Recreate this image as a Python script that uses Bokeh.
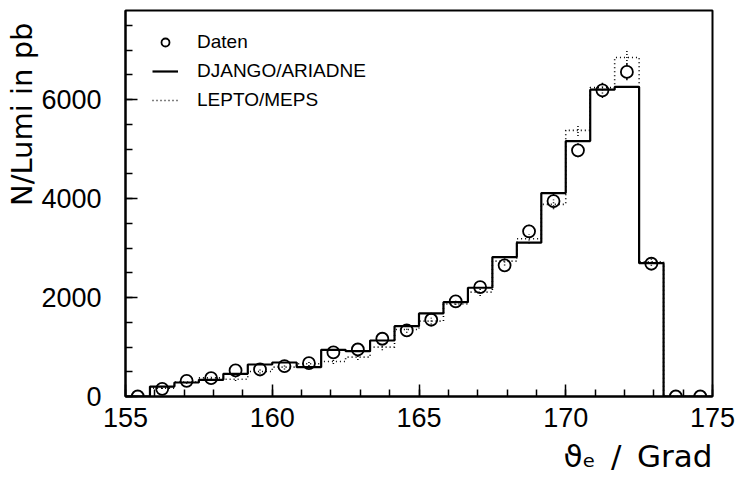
import numpy as np
from bokeh.plotting import figure
from bokeh.models import FixedTicker, Legend, LegendItem, Range1d, Title
from bokeh.embed import file_html
from bokeh.resources import INLINE

# ---- data ----
bin_lo = 155.0
bin_hi = 175.0
n_bins = 24

daten = [0, 155, 317, 370, 526, 546, 613, 674, 890, 950, 1167, 1335,
         1551, 1921, 2210, 2650, 3337, 3949, 4975, 6187, 6558, 2683, 0, 0]
daten_err = [0, 40, 50, 55, 60, 60, 65, 70, 80, 80, 90, 95,
             100, 110, 115, 125, 135, 145, 140, 155, 165, 110, 0, 0]
django = [0, 200, 283, 337, 459, 647, 687, 593, 944, 916, 1132, 1422,
          1678, 1907, 2198, 2817, 3108, 4111, 5162, 6201, 6256, 2695, 0, 0]
lepto = [0, 170, 290, 376, 350, 505, 593, 661, 708, 795, 997, 1355,
         1523, 1870, 2109, 2736, 3189, 3883, 5378, 6242, 6850, 2723, 0, 0]
lepto_err = [0, 20, 30, 35, 35, 40, 45, 45, 50, 55, 60, 65,
             70, 75, 80, 90, 95, 100, 115, 120, 130, 80, 0, 0]

x_ticks = [155, 160, 165, 170, 175]
x_minor = list(range(155, 176))
y_ticks = [0, 2000, 4000, 6000]
y_minor = list(range(0, 8000, 500))
y_max = 7800

legend_labels = ["Daten", "DJANGO/ARIADNE", "LEPTO/MEPS"]
x_title = "\u03d1\u2091\u2002/\u2002Grad"
y_title = "N/Lumi in pb"

# ---- derived ----
edges = np.linspace(bin_lo, bin_hi, n_bins + 1)
centers = 0.5 * (edges[:-1] + edges[1:])


def step_xy(vals):
    xs = np.repeat(edges, 2)[1:-1]
    ys = np.repeat(np.asarray(vals, dtype=float), 2)
    return xs, ys


FONT = "Liberation Sans"
W, H = 737, 479
ML, MR, MT, MB = 125, 25, 10, 83
frame_h = H - MT - MB

p = figure(width=W, height=H, output_backend="svg", toolbar_location=None,
           x_range=Range1d(bin_lo, bin_hi), y_range=Range1d(0, y_max),
           min_border_left=ML, min_border_right=MR, min_border_top=MT,
           min_border_bottom=MB)
p.background_fill_color = "white"
p.border_fill_color = "white"
p.outline_line_color = "black"
p.outline_line_width = 2
p.xgrid.visible = False
p.ygrid.visible = False

for ax in (p.xaxis[0], p.yaxis[0]):
    ax.axis_line_width = 2
    ax.major_tick_in = 12
    ax.major_tick_out = 0
    ax.minor_tick_in = 7
    ax.minor_tick_out = 0
    ax.major_tick_line_width = 1.5
    ax.minor_tick_line_width = 1.5
    ax.major_label_text_font = FONT
    ax.major_label_text_font_size = "27px"
    ax.major_label_text_color = "black"

p.xaxis[0].ticker = FixedTicker(ticks=x_ticks, minor_ticks=x_minor)
p.yaxis[0].ticker = FixedTicker(ticks=y_ticks, minor_ticks=y_minor)
p.xaxis[0].major_label_standoff = 11
p.yaxis[0].major_label_standoff = 24

# histograms
xs, ys = step_xy(django)
r_dj = p.line(xs, ys, line_color="black", line_width=2.2)
xs, ys = step_xy(lepto)
r_le = p.line(xs, ys, line_color="black", line_width=1.6, line_dash="1 3")

# LEPTO error bars (dotted)
le = np.asarray(lepto, float)
lee = np.asarray(lepto_err, float)
m = lee > 0
p.segment(centers[m], le[m] - lee[m], centers[m], le[m] + lee[m],
          line_color="black", line_width=1.5, line_dash="1 2")

# data points with error bars outside the marker
marker_size = 12
r_data_units = (marker_size / 2) * y_max / frame_h
d = np.asarray(daten, float)
de = np.asarray(daten_err, float)
m = de > r_data_units
p.segment(centers[m], d[m] + r_data_units, centers[m], d[m] + de[m],
          line_color="black", line_width=1.5)
p.segment(centers[m], d[m] - de[m], centers[m], d[m] - r_data_units,
          line_color="black", line_width=1.5)
r_pts = p.scatter(centers, d, marker="circle", size=marker_size,
                  fill_color=None, line_color="black", line_width=1.8)

legend = Legend(items=[LegendItem(label=legend_labels[0], renderers=[r_pts]),
                       LegendItem(label=legend_labels[1], renderers=[r_dj]),
                       LegendItem(label=legend_labels[2], renderers=[r_le])],
                location=(27, frame_h - 17 - 87))
legend.border_line_color = None
legend.background_fill_alpha = 0
legend.padding = 0
legend.margin = 0
legend.spacing = 0
legend.glyph_width = 26
legend.glyph_height = 20
legend.label_height = 29
legend.label_standoff = 19
legend.label_text_font = FONT
legend.label_text_font_size = "19px"
legend.label_text_color = "black"
legend.label_text_baseline = "middle"
p.add_layout(legend, "center")

# axis titles as side-panel titles
ty = Title(text=y_title, align="right", offset=12, standoff=0,
           text_font="DejaVu Sans", text_font_size="29px", text_font_style="normal",
           text_color="black")
p.add_layout(ty, "left")
tx = Title(text=x_title, align="right", offset=0, standoff=12,
           text_font="DejaVu Sans", text_font_size="31px", text_font_style="normal",
           text_color="black")
p.add_layout(tx, "below")

open("out.html", "w").write(file_html(p, INLINE))
